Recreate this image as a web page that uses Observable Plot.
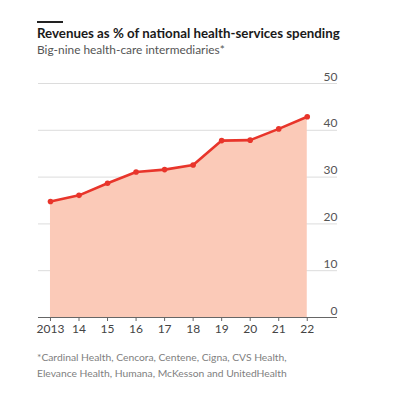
<!DOCTYPE html>
<html>
<head>
<meta charset="utf-8">
<script src="https://cdn.jsdelivr.net/npm/d3@7"></script>
<script src="https://cdn.jsdelivr.net/npm/@observablehq/plot@0.6"></script>
<style>
  body { margin: 0; background: #fff; font-family: Lato, "Open Sans", sans-serif; }
  #wrap { position: relative; width: 397px; height: 400px; }
  #rule { position: absolute; left: 37px; top: 21px; width: 26px; height: 1.5px; background: #222; }
  #title { position: absolute; left: 37px; top: 25px; font-size: 13.3px; font-weight: 700; color: #1a1a1a; white-space: nowrap; }
  #subtitle { position: absolute; left: 37px; top: 42px; font-size: 11.9px; color: #555; white-space: nowrap; }
  #chart { position: absolute; left: 0; top: 60px; }
  #note { position: absolute; left: 37px; top: 350px; font-size: 10.3px; line-height: 15.5px; color: #808080; white-space: nowrap; }
</style>
</head>
<body>
<div id="wrap">
  <div id="rule"></div>
  <div id="title">Revenues as % of national health-services spending</div>
  <div id="subtitle">Big-nine health-care intermediaries*</div>
  <div id="chart"></div>
  <div id="note">*Cardinal Health, Cencora, Centene, Cigna, CVS Health,<br>Elevance Health, Humana, McKesson and UnitedHealth</div>
</div>
<script>
const years = [2013, 2014, 2015, 2016, 2017, 2018, 2019, 2020, 2021, 2022];
const values = [24.8, 26.1, 28.7, 31.1, 31.6, 32.6, 37.8, 37.9, 40.3, 42.9];
const xTickLabels = ["2013", "14", "15", "16", "17", "18", "19", "20", "21", "22"];
const yTicks = [0, 10, 20, 30, 40, 50];

const data = years.map((y, i) => ({year: y, value: values[i]}));
const xMin = 2012.58, xMax = 2023.06;

const chart = Plot.plot({
  width: 397,
  height: 285,
  marginLeft: 38,
  marginRight: 60,
  marginTop: 23,
  marginBottom: 28,
  style: {fontFamily: "Lato, 'Open Sans', sans-serif", fontSize: "12px", color: "#555"},
  x: {type: "linear", domain: [xMin, xMax], axis: null},
  y: {domain: [0, 50], axis: null},
  marks: [
    Plot.ruleY(yTicks.filter(d => d > 0), {stroke: "#dcdcdc", strokeWidth: 1}),
    Plot.areaY(data, {x: "year", y: "value", fill: "#fbcab8"}),
    Plot.ruleY([0], {stroke: "#666", strokeWidth: 1}),
    Plot.axisX({ticks: years, label: null, tickFormat: d => xTickLabels[years.indexOf(d)], tickSize: 4, tickPadding: 3, stroke: "#666", fill: "#444", fontSize: 12}),
    Plot.text(yTicks, {x: () => xMax, y: d => d, text: d => String(d), textAnchor: "end", lineAnchor: "bottom", dy: -3, fill: "#555", fontSize: 12}),
    Plot.line(data, {x: "year", y: "value", stroke: "#e8352b", strokeWidth: 2.6}),
    Plot.dot(data, {x: "year", y: "value", fill: "#e8352b", r: 2.8})
  ]
});
document.getElementById("chart").appendChild(chart);
</script>
</body>
</html>
